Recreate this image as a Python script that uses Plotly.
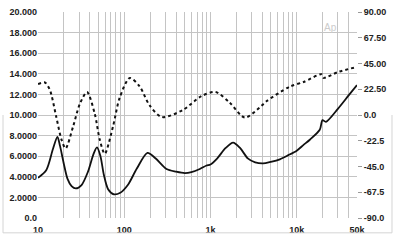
import plotly.graph_objects as go
import math

# Solid curve (left axis)
freq_a = [10, 12.5, 14.9, 16.8, 18, 20, 22, 24.5, 27.4, 32, 38, 44, 48.3, 53, 58, 65, 76, 90, 110, 140, 186, 230, 309, 400, 503, 600, 752, 900, 1000, 1200, 1500, 1830, 2200, 2730, 3300, 4070, 5000, 6370, 8000, 10000, 12000, 14200, 18500, 19900, 21800, 30000, 40000, 50000]
val_a = [3.9, 4.67, 6.7, 7.88, 7.0, 5.2, 3.8, 3.1, 2.87, 3.2, 4.5, 6.2, 6.85, 6.0, 4.2, 2.8, 2.3, 2.45, 3.2, 4.8, 6.32, 5.8, 4.76, 4.5, 4.36, 4.45, 4.76, 5.1, 5.2, 5.8, 6.8, 7.32, 6.8, 5.76, 5.4, 5.3, 5.45, 5.7, 6.1, 6.54, 7.1, 7.6, 8.56, 9.5, 9.34, 10.6, 11.9, 12.9]

# Dotted curve (right axis, degrees)
freq_b = [10, 12, 13.7, 16.3, 18.7, 20.9, 25.5, 30.5, 37, 45.5, 51.9, 59.4, 74, 88.5, 116, 151, 198, 274, 481, 786, 1148, 1670, 2500, 3730, 4500, 8300, 12000, 19400, 20400, 30000, 48000]
val_b = [27.0, 28.4, 22.1, -1.8, -21.3, -29.2, -10.2, 9.5, 20.1, 1.1, -21.3, -33.9, -10.2, 15.0, 32.4, 24.9, 8.1, -1.8, 4.5, 16.5, 20.1, 10.8, -2.25, 6.7, 12.2, 24.8, 28.8, 35.6, 32.4, 37.5, 41.7]

left_ticks = [0, 2, 4, 6, 8, 10, 12, 14, 16, 18, 20]
left_text = ["0.0", "2.0000", "4.0000", "6.0000", "8.0000", "10.000", "12.000", "14.000", "16.000", "18.000", "20.000"]
right_ticks = [-90, -67.5, -45, -22.5, 0, 22.5, 45, 67.5, 90]
right_text = ["-90.0", "-67.5", "-45.0", "-22.5", "0.0", "22.50", "45.00", "67.50", "90.00"]
x_labels = {10: "10", 100: "100", 1000: "1k", 10000: "10k", 50000: "50k"}

grid_x = []
for dec in [10, 100, 1000, 10000]:
    for m in range(1, 10):
        v = dec * m
        if v <= 50000:
            grid_x.append(v)
grid_x.append(50000)
grid_x = sorted(set(grid_x))
grid_text = [x_labels.get(v, "") for v in grid_x]

font = dict(family="Liberation Sans, Arial, sans-serif", size=9, color="#222222", weight="bold")

fig = go.Figure()
fig.add_trace(go.Scatter(x=freq_b, y=val_b, yaxis="y2", mode="lines",
                         line=dict(color="#111111", width=2, dash="dot", shape="spline", smoothing=0.8),
                         hoverinfo="skip"))
fig.add_trace(go.Scatter(x=freq_a, y=val_a, mode="lines",
                         line=dict(color="#111111", width=1.8, shape="spline", smoothing=0.8),
                         hoverinfo="skip"))

fig.update_layout(
    width=400, height=243,
    margin=dict(l=38, r=43, t=7.5, b=21.3),
    paper_bgcolor="white", plot_bgcolor="white",
    showlegend=False,
    xaxis=dict(type="log", range=[1, math.log10(50000)], tickvals=grid_x, ticktext=grid_text,
               showgrid=True, gridcolor="#c4c4c4", gridwidth=1, ticks="", tickfont=font,
               ticklabelstandoff=5, zeroline=False, showline=False),
    yaxis=dict(range=[0, 20], tickvals=left_ticks, ticktext=left_text, showgrid=True,
               gridcolor="#c4c4c4", gridwidth=1, ticks="", tickfont=font, zeroline=False,
               showline=False),
    yaxis2=dict(range=[-90, 90], tickvals=right_ticks, ticktext=right_text, overlaying="y",
                side="right", showgrid=False, ticks="outside", ticklen=4, tickcolor="#999999",
                tickfont=font, zeroline=False, showline=False),
    shapes=[
        dict(type="line", xref="paper", yref="paper", x0=-0.1097, x1=1.1097, y0=-0.072, y1=-0.072,
             line=dict(color="#d4d4d4", width=1)),
        dict(type="line", xref="paper", yref="paper", x0=-0.1097, x1=-0.1097, y0=-0.072, y1=0.5,
             line=dict(color="#d4d4d4", width=1)),
        dict(type="line", xref="paper", yref="paper", x0=1.1097, x1=1.1097, y0=-0.072, y1=0.5,
             line=dict(color="#d4d4d4", width=1)),
    ],
    annotations=[dict(text="Ap", xref="paper", yref="paper", x=0.945, y=0.96, showarrow=False,
                      font=dict(family="Liberation Sans, Arial", size=10, color="#cccccc"))],
)

fig.write_html("out.html")
